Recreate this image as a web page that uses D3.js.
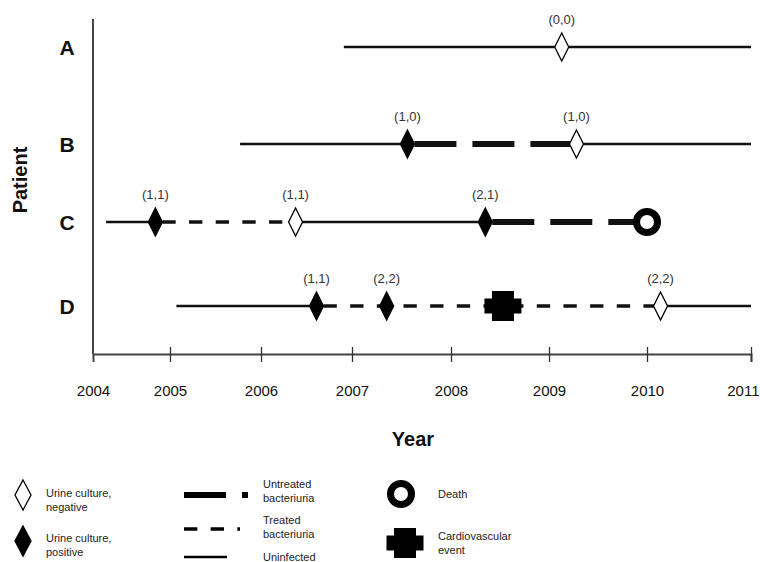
<!DOCTYPE html>
<html>
<head>
<meta charset="utf-8">
<script src="https://cdn.jsdelivr.net/npm/d3@7"></script>
<style>
  body { margin: 0; background: #fff; }
  svg { display: block; font-family: "Liberation Sans", Arial, sans-serif; }
</style>
</head>
<body>
<div id="chart"></div>
<script>
// data
const patients = ["A", "B", "C", "D"];
const yearTicks = [2004, 2005, 2006, 2007, 2008, 2009, 2010, 2011];

// follow-up segments: [patient, from, to, state]
const segments = [
  ["A", 2006.91, 2011, "uninfected"],
  ["B", 2005.77, 2007.56, "uninfected"],
  ["B", 2007.56, 2009.28, "untreated"],
  ["B", 2009.28, 2011, "uninfected"],
  ["C", 2004.17, 2004.81, "uninfected"],
  ["C", 2004.81, 2006.38, "treated"],
  ["C", 2006.38, 2008.35, "uninfected"],
  ["C", 2008.35, 2010.0, "untreated"],
  ["D", 2005.07, 2006.61, "uninfected"],
  ["D", 2006.61, 2010.13, "treated"],
  ["D", 2010.13, 2011, "uninfected"]
];

// events: [patient, year, kind, label]
const events = [
  ["A", 2009.13, "negative", "(0,0)"],
  ["B", 2007.56, "positive", "(1,0)"],
  ["B", 2009.28, "negative", "(1,0)"],
  ["C", 2004.81, "positive", "(1,1)"],
  ["C", 2006.38, "negative", "(1,1)"],
  ["C", 2008.35, "positive", "(2,1)"],
  ["C", 2010.0, "death", ""],
  ["D", 2006.61, "positive", "(1,1)"],
  ["D", 2007.35, "positive", "(2,2)"],
  ["D", 2008.53, "cardio", ""],
  ["D", 2010.13, "negative", "(2,2)"]
];

const width = 760, height = 562;

const svg = d3.select("#chart").append("svg")
    .attr("width", width)
    .attr("height", height);

// the original axis is not evenly spaced, so the scale is piecewise
const x = d3.scaleLinear()
    .domain(yearTicks)
    .range([93, 170, 261, 352, 451, 549, 647, 751]);

const y = d3.scaleOrdinal()
    .domain(patients)
    .range([47, 144, 222, 306]);

const axisY = 354, axisTop = 19;

const lineStyle = {
  uninfected: { w: 2.5, dash: null },
  treated: { w: 3.4, dash: "13.33,13.33" },
  untreated: { w: 6, dash: "42,16" }
};

// axes
svg.append("line")
    .attr("x1", x(2004)).attr("x2", x(2004))
    .attr("y1", axisTop).attr("y2", axisY)
    .attr("stroke", "#444").attr("stroke-width", 2);

const xAxis = svg.append("g")
    .attr("transform", `translate(0,${axisY})`)
    .call(d3.axisBottom(x).tickValues(yearTicks).tickFormat(d3.format("d")).tickSize(8).tickPadding(23));

xAxis.select(".domain").attr("stroke", "#444").attr("stroke-width", 2);
xAxis.selectAll(".tick line").attr("y1", -7).attr("stroke", "#333").attr("stroke-width", 1.3);
xAxis.selectAll(".tick").filter(d => d === 2004).select("line").remove();
xAxis.selectAll(".tick text")
    .attr("font-size", 15)
    .attr("font-family", "Liberation Sans, Arial, sans-serif")
    .attr("fill", "#111");
// last label sits against the right edge
xAxis.selectAll(".tick text").filter(d => d === 2011)
    .attr("text-anchor", "end")
    .attr("x", 759 - x(2011));

// row labels
svg.append("g")
    .selectAll("text")
    .data(patients)
    .join("text")
    .attr("x", 67)
    .attr("y", d => y(d) + 7.5)
    .attr("text-anchor", "middle")
    .attr("font-size", 21)
    .attr("font-weight", "bold")
    .attr("fill", "#111")
    .text(d => d);

svg.append("text")
    .attr("transform", `translate(27,180) rotate(-90)`)
    .attr("text-anchor", "middle")
    .attr("font-size", 20)
    .attr("font-weight", "bold")
    .attr("fill", "#111")
    .text("Patient");

svg.append("text")
    .attr("x", 413)
    .attr("y", 446)
    .attr("text-anchor", "middle")
    .attr("font-size", 20)
    .attr("font-weight", "bold")
    .attr("fill", "#111")
    .text("Year");

// segments
svg.append("g")
    .selectAll("line")
    .data(segments)
    .join("line")
    .attr("x1", d => x(d[1]))
    .attr("x2", d => x(d[2]))
    .attr("y1", d => y(d[0]))
    .attr("y2", d => y(d[0]))
    .attr("stroke", "#111")
    .attr("stroke-width", d => lineStyle[d[3]].w)
    .attr("stroke-dasharray", d => lineStyle[d[3]].dash)
    .attr("stroke-dashoffset", -7);

// marker shapes
function diamond(hw, hh) {
  return `M0,${-hh}L${hw},0L0,${hh}L${-hw},0Z`;
}

function drawMarker(g, kind, big) {
  if (kind === "negative" || kind === "positive") {
    g.append("path")
      .attr("d", big ? diamond(8, 15) : diamond(7, 14))
      .attr("fill", kind === "positive" ? "#000" : "#fff")
      .attr("stroke", "#000")
      .attr("stroke-width", 1.3);
  } else if (kind === "death") {
    g.append("circle")
      .attr("r", 10.5)
      .attr("fill", "#fff")
      .attr("stroke", "#000")
      .attr("stroke-width", 7);
  } else if (kind === "cardio") {
    g.append("rect").attr("x", -11).attr("y", -15).attr("width", 22).attr("height", 30).attr("fill", "#000");
    g.append("rect").attr("x", -18.5).attr("y", -7.5).attr("width", 37).attr("height", 15).attr("fill", "#000");
  }
}

const ev = svg.append("g")
    .selectAll("g")
    .data(events)
    .join("g")
    .attr("transform", d => `translate(${x(d[1])},${y(d[0])})`);

ev.each(function(d) { drawMarker(d3.select(this), d[2], false); });

ev.append("text")
    .attr("y", -23)
    .attr("text-anchor", "middle")
    .attr("font-size", 13)
    .attr("fill", "#333")
    .text(d => d[3]);

// legend
const legend = svg.append("g").attr("font-size", 11).attr("fill", "#222");

function legendText(x0, lines, y0) {
  const t = legend.append("text").attr("x", x0).attr("y", y0);
  lines.forEach((s, i) => t.append("tspan").attr("x", x0).attr("dy", i ? 13.5 : 0).text(s));
}

drawMarker(legend.append("g").attr("transform", "translate(23,495)"), "negative", true);
legendText(46, ["Urine culture,", "negative"], 497);
drawMarker(legend.append("g").attr("transform", "translate(23,541)"), "positive", true);
legendText(46, ["Urine culture,", "positive"], 542);

const legendLines = [
  ["untreated", 495, 248, ["Untreated", "bacteriuria"], 488],
  ["treated", 529, 240, ["Treated", "bacteriuria"], 524],
  ["uninfected", 557, 227, ["Uninfected"], 561]
];
legendLines.forEach(l => {
  legend.append("line")
    .attr("x1", 184).attr("x2", l[2])
    .attr("y1", l[1]).attr("y2", l[1])
    .attr("stroke", "#000")
    .attr("stroke-width", lineStyle[l[0]].w)
    .attr("stroke-dasharray", lineStyle[l[0]].dash);
  legendText(263, l[3], l[4]);
});

drawMarker(legend.append("g").attr("transform", "translate(401,494)"), "death", true);
legendText(438, ["Death"], 498);
drawMarker(legend.append("g").attr("transform", "translate(405,543)"), "cardio", true);
legendText(438, ["Cardiovascular", "event"], 540);
</script>
</body>
</html>
